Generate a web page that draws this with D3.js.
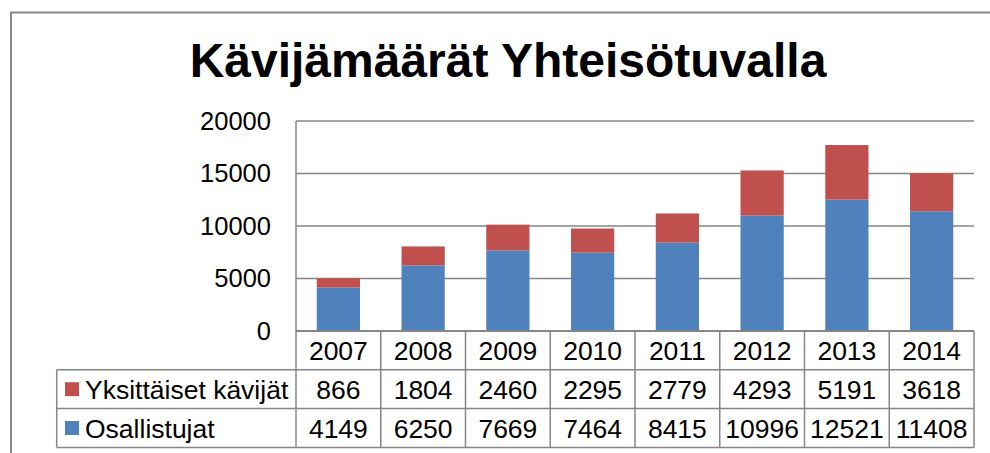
<!DOCTYPE html>
<html><head><meta charset="utf-8">
<script src="https://cdn.jsdelivr.net/npm/d3@7"></script>
<style>body{margin:0;background:#fff;}svg{display:block;font-family:"Liberation Sans",Arial,sans-serif;}</style>
</head><body>
<svg id="c" width="990" height="453"></svg>
<script>
const title = "Kävijämäärät Yhteisötuvalla";
const years = ["2007","2008","2009","2010","2011","2012","2013","2014"];
const osallistujat = [4149,6250,7669,7464,8415,10996,12521,11408];
const yksittaiset = [866,1804,2460,2295,2779,4293,5191,3618];
const yTicks = [0,5000,10000,15000,20000];
const seriesNames = ["Yksittäiset kävijät","Osallistujat"];
const colors = {"Osallistujat":"#4F81BD","Yksittäiset kävijät":"#C0504D"};

const svg = d3.select("#c");
const grid = "#868686";
const L = 296, R = 974, T = 121, B = 331;
const rowH = 38.8;
const legendLeft = 56.7;

// outer border
svg.append("rect").attr("x",11).attr("y",12.5).attr("width",1000).attr("height",500)
  .attr("fill","none").attr("stroke","#898989").attr("stroke-width",2);

svg.append("text").attr("x",508).attr("y",77.3).attr("text-anchor","middle")
  .attr("font-size",48).attr("font-weight","bold").attr("fill","#000").text(title);

const x = d3.scaleBand().domain(years).range([L,R]).padding(0);
const y = d3.scaleLinear().domain([0,20000]).range([B,T]);

// gridlines
svg.append("g").selectAll("line").data(yTicks.filter(d=>d>0)).join("line")
  .attr("x1",L).attr("x2",R).attr("y1",d=>y(d)).attr("y2",d=>y(d))
  .attr("stroke",grid).attr("stroke-width",1.5);

// y axis labels
const yAxis = d3.axisLeft(y).tickValues(yTicks).tickSize(0).tickPadding(25).tickFormat(d3.format("d"));
const ga = svg.append("g").attr("transform",`translate(${L},0)`).call(yAxis);
ga.select(".domain").remove();
ga.selectAll("text").attr("font-size",25.5).attr("fill","#000").attr("font-family","Liberation Sans, Arial, sans-serif");

// stacked bars
const data = years.map((yr,i)=>({year:yr,"Osallistujat":osallistujat[i],"Yksittäiset kävijät":yksittaiset[i]}));
const stack = d3.stack().keys(["Osallistujat","Yksittäiset kävijät"])(data);
const bw = x.bandwidth()*0.51;
svg.append("g").selectAll("g").data(stack).join("g").attr("fill",d=>colors[d.key])
  .selectAll("rect").data(d=>d).join("rect")
  .attr("x",d=>x(d.data.year)+(x.bandwidth()-bw)/2).attr("width",bw)
  .attr("y",d=>y(d[1])).attr("height",d=>y(d[0])-y(d[1]));

// left axis line
svg.append("line").attr("x1",L).attr("x2",L).attr("y1",T).attr("y2",B).attr("stroke",grid).attr("stroke-width",1.5);

// data table
const tg = svg.append("g");
const rowsY = [B, B+rowH, B+2*rowH, B+3*rowH];
tg.append("line").attr("x1",L).attr("x2",R).attr("y1",B).attr("y2",B).attr("stroke",grid).attr("stroke-width",2);
[1,2,3].forEach(k=>{
  tg.append("line").attr("x1",legendLeft).attr("x2",R).attr("y1",rowsY[k]).attr("y2",rowsY[k]).attr("stroke",grid).attr("stroke-width",1.5);
});
years.forEach(yr=>{
  tg.append("line").attr("x1",x(yr)).attr("x2",x(yr)).attr("y1",B).attr("y2",rowsY[3]).attr("stroke",grid).attr("stroke-width",1.5);
});
tg.append("line").attr("x1",R).attr("x2",R).attr("y1",B).attr("y2",rowsY[3]).attr("stroke",grid).attr("stroke-width",1.5);
tg.append("line").attr("x1",legendLeft).attr("x2",legendLeft).attr("y1",rowsY[1]).attr("y2",rowsY[3]).attr("stroke",grid).attr("stroke-width",1.5);

tg.selectAll("text.yr").data(years).join("text").attr("class","yr")
  .attr("x",d=>x(d)+x.bandwidth()/2).attr("y",(rowsY[0]+rowsY[1])/2).attr("dy","0.36em")
  .attr("text-anchor","middle").attr("font-size",26.5).text(d=>d);

const rowVals = [yksittaiset, osallistujat];
seriesNames.forEach((name,k)=>{
  const cy = (rowsY[k+1]+rowsY[k+2])/2;
  tg.append("rect").attr("x",65).attr("y",cy-7).attr("width",14).attr("height",14).attr("fill",colors[name]);
  tg.append("text").attr("x",85).attr("y",cy).attr("dy","0.36em").attr("font-size",26.5).text(name);
  tg.selectAll("text.v"+k).data(rowVals[k]).join("text").attr("class","v"+k)
    .attr("x",(d,i)=>x(years[i])+x.bandwidth()/2).attr("y",cy).attr("dy","0.36em")
    .attr("text-anchor","middle").attr("font-size",26.5).text(d=>d);
});
</script>
</body></html>
